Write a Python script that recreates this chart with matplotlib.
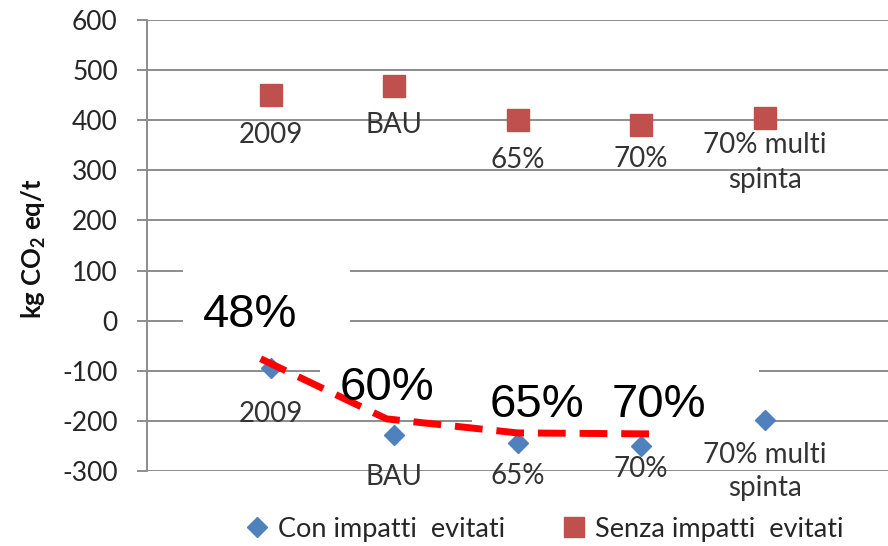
import matplotlib
matplotlib.use("Agg")
import matplotlib.pyplot as plt
import matplotlib.patches as patches
from matplotlib.lines import Line2D

plt.rcParams['font.family'] = ['Lato', 'DejaVu Sans']
plt.rcParams['axes.unicode_minus'] = False
plt.rcParams['mathtext.fontset'] = 'custom'
plt.rcParams['mathtext.rm'] = 'Lato'
plt.rcParams['mathtext.bf'] = 'Lato:bold'

# scenario data (kg CO2 eq per tonne)
scenarios = ['2009', 'BAU', '65%', '70%', '70% multi\nspinta']
con_impatti = [-95, -228, -245, -250, -198]
senza_impatti = [450, 468, 400, 390, 405]

# hand-drawn trend across the recycling rates
trend_x = [0.92, 1.94, 3.0, 4.09]
trend_y = [-76, -196, -224, -226]
quota_labels = ['48%', '60%', '65%', '70%']

# layout: label offsets (px below the marker), quota text anchors, white boxes
senza_off = [27, 26, 27, 21, 14]
con_off = [33, 29, 20, 10, 22]
quota_pos = [(0.834, -12), (1.943, -158), (3.157, -192), (4.146, -192)]
boxes = [(0.291, -48, 1.644, 105), (1.40, -196, 2.70, -48), (2.63, -208, 4.955, -48)]

BLUE = '#4F81BD'
RED = '#C0504D'
GRID = '#8c8c8c'
PX = 0.72  # points per pixel at dpi 100

fig = plt.figure(figsize=(8.88, 5.46), dpi=100)
ax = fig.add_axes([147 / 888, 1 - 471 / 546, 1 - 147 / 888, (471 - 20) / 546])

ax.set_xlim(0, 6)
ax.set_ylim(-300, 600)
ax.set_yticks(range(-300, 601, 100))
ax.set_xticks([])
ax.yaxis.grid(True, color=GRID, linewidth=1.4, zorder=0)
ax.set_axisbelow(True)
for side in ['top', 'right', 'bottom']:
    ax.spines[side].set_visible(False)
ax.spines['left'].set_color(GRID)
ax.spines['left'].set_linewidth(1.4)
ax.tick_params(axis='y', length=7, width=1.4, color=GRID, pad=14,
               labelsize=19, labelcolor='#262626')

# white label boxes sitting over the gridlines
for x0, y0, x1, y1 in boxes:
    ax.add_patch(patches.Rectangle((x0, y0), x1 - x0, y1 - y0, facecolor='white',
                                   edgecolor='none', zorder=1.5))

xs = list(range(1, len(scenarios) + 1))
ax.plot(xs, con_impatti, linestyle='none', marker='D', markersize=10,
        color=BLUE, zorder=3)
ax.plot(xs, senza_impatti, linestyle='none', marker='s', markersize=16.5,
        color=RED, zorder=3)

for x, y, lab, off in zip(xs, senza_impatti, scenarios, senza_off):
    ax.annotate(lab, (x, y), xytext=(0, -off * PX), textcoords='offset points',
                ha='center', va='top', fontsize=20, color='#333333',
                linespacing=1.45, zorder=4)
for x, y, lab, off in zip(xs, con_impatti, scenarios, con_off):
    ax.annotate(lab, (x, y), xytext=(0, -off * PX), textcoords='offset points',
                ha='center', va='top', fontsize=20, color='#333333',
                linespacing=1.35, zorder=4)

ax.plot(trend_x, trend_y, color='#FF0000', linewidth=5,
        linestyle=(0, (4, 2)), dash_capstyle='butt', zorder=5)

for (qx, qy), lab in zip(quota_pos, quota_labels):
    ax.text(qx, qy, lab, ha='center', va='baseline', fontsize=34,
            family='Liberation Sans', color='black', zorder=6)

fig.text(34 / 888, 1 - 249 / 546, r'kg CO$_\mathbf{2}$ eq/t', rotation=90,
         ha='center', va='center', fontsize=18.5, fontweight='bold', color='#111111')

handles = [
    Line2D([0], [0], linestyle='none', marker='D', markersize=10.5, color=BLUE,
           label='Con impatti  evitati'),
    Line2D([0], [0], linestyle='none', marker='s', markersize=15, color=RED,
           label='Senza impatti  evitati'),
]
fig.legend(handles=handles, loc='center', bbox_to_anchor=(0.614, 0.031), ncol=2,
           frameon=False, fontsize=19.5, handlelength=0.75, handletextpad=0.4,
           columnspacing=2.2, borderpad=0, labelcolor='#262626')

fig.savefig('out.png', dpi=100)
